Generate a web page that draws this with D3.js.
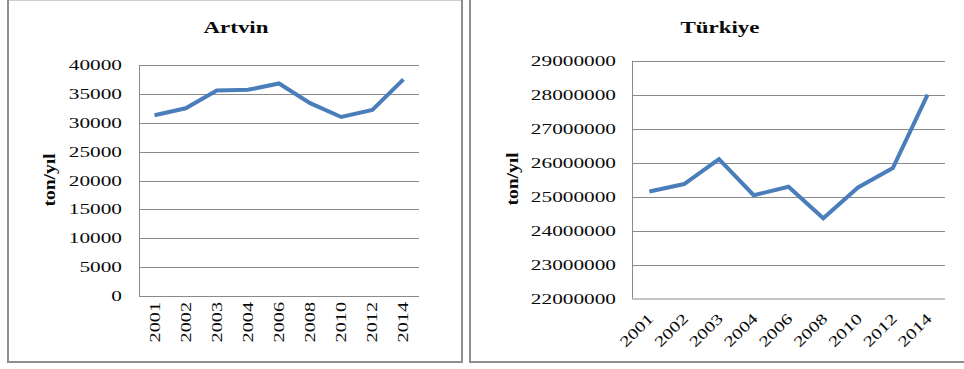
<!DOCTYPE html>
<html><head><meta charset="utf-8">
<script src="https://cdn.jsdelivr.net/npm/d3@7"></script>
<style>body{margin:0;background:#fff}svg{display:block}</style>
</head><body>
<svg id="c" width="964" height="369"></svg>
<script>
const years = ["2001","2002","2003","2004","2006","2008","2010","2012","2014"];
const artvinValues = [31300, 32500, 35600, 35700, 36800, 33400, 31000, 32200, 37500];
const turkiyeValues = [25150000, 25370000, 26100000, 25040000, 25290000, 24360000, 25270000, 25840000, 28000000];
const artvinTicks = [0,5000,10000,15000,20000,25000,30000,35000,40000];
const turkiyeTicks = [22000000,23000000,24000000,25000000,26000000,27000000,28000000,29000000];
const titles = ["Artvin","Türkiye"];
const yLabel = "ton/yıl";

const svg = d3.select("#c");
const FONT = "'Liberation Serif','Times New Roman',serif";
const SX = 1.42;
const gridCol = "#8a8a8a", borderCol = "#8e8e8e", lineCol = "#4a7ebb";

function txt(g, x, y, s, opts) {
  const o = Object.assign({rot:0,size:15,bold:false,anchor:"middle",sx:SX}, opts||{});
  g.append("text")
    .attr("transform", `translate(${x},${y}) rotate(${o.rot}) scale(${o.sx},1)`)
    .attr("text-anchor", o.anchor)
    .attr("font-family", FONT)
    .attr("font-size", o.size)
    .attr("font-weight", o.bold ? "bold" : "normal")
    .attr("fill", "#0a0a0a")
    .text(s);
}

// panel borders
svg.append("line").attr("x1",7).attr("x2",463).attr("y1",0.5).attr("y2",0.5).attr("stroke","#cfcfcf").attr("stroke-width",1);
svg.append("path").attr("d","M8,0 V362 H462 V0").attr("fill","none").attr("stroke",borderCol).attr("stroke-width",2);
svg.append("path").attr("d","M470,0 V362 H964").attr("fill","none").attr("stroke",borderCol).attr("stroke-width",2);

function panel(cfg) {
  const g = svg.append("g");
  const x = d3.scaleBand().domain(years).range([cfg.x0, cfg.x1]).padding(0);
  const y = d3.scaleLinear().domain([cfg.ticks[0], cfg.ticks[cfg.ticks.length-1]]).range([cfg.y1, cfg.y0]);
  // gridlines
  g.selectAll(".grid").data(cfg.ticks.slice(1)).join("line")
    .attr("x1", cfg.x0).attr("x2", cfg.x1)
    .attr("y1", d => Math.round(y(d))+0.5).attr("y2", d => Math.round(y(d))+0.5)
    .attr("stroke", gridCol).attr("stroke-width", 1);
  // axes lines
  g.append("line").attr("x1", cfg.x0+0.5).attr("x2", cfg.x0+0.5).attr("y1", cfg.y0).attr("y2", cfg.y1)
    .attr("stroke", gridCol).attr("stroke-width", 1);
  g.append("line").attr("x1", cfg.x0).attr("x2", cfg.x1).attr("y1", cfg.y1+0.5).attr("y2", cfg.y1+0.5)
    .attr("stroke", gridCol).attr("stroke-width", 1);
  // y tick labels
  cfg.ticks.forEach(t => txt(g, cfg.labelX, y(t)+5, String(t), {anchor:"end"}));
  // x tick labels
  years.forEach(yr => {
    const cx = x(yr) + x.bandwidth()/2;
    if (cfg.xrot === -90) txt(g, cx+5, cfg.y1+6, yr, {rot:-90, anchor:"end", sx:1.35});
    else txt(g, cx+5, cfg.y1+21, yr, {rot:-45, anchor:"end", sx:1.35});
  });
  // line
  const line = d3.line().x((d,i) => x(years[i]) + x.bandwidth()/2).y(d => y(d));
  g.append("path").datum(cfg.values).attr("d", line)
    .attr("fill","none").attr("stroke", lineCol).attr("stroke-width", 4)
    .attr("stroke-linejoin","miter").attr("stroke-linecap","butt");
  // title
  txt(g, cfg.titleX, 33, cfg.title, {size:17, bold:true, sx:1.35});
  // y label
  txt(g, cfg.ylabX, cfg.ylabY, yLabel, {size:17, bold:true, rot:-90, sx:1.15});
}

panel({x0:139, x1:419, y0:65, y1:296, ticks:artvinTicks, values:artvinValues,
  labelX:122, xrot:-90, title:titles[0], titleX:236, ylabX:55, ylabY:180});
panel({x0:632, x1:945, y0:60.7, y1:298.5, ticks:turkiyeTicks, values:turkiyeValues,
  labelX:616, xrot:-45, title:titles[1], titleX:720, ylabX:518, ylabY:179});
</script>
</body></html>
